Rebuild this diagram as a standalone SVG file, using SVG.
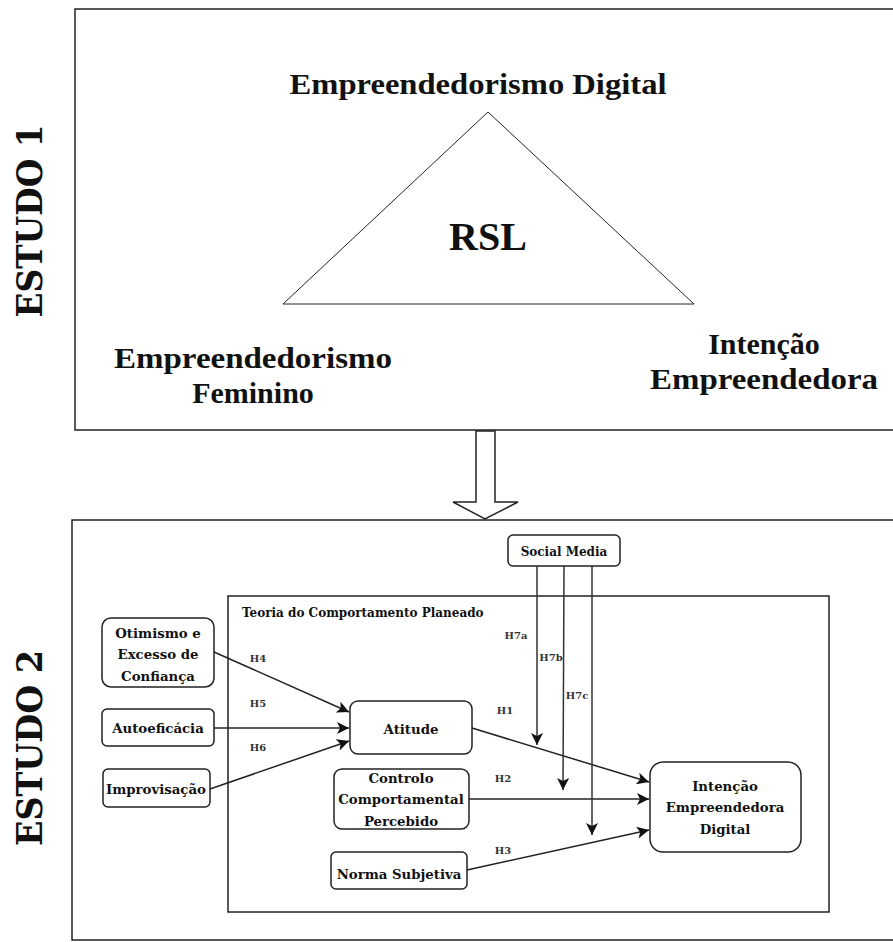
<svg xmlns="http://www.w3.org/2000/svg" width="893" height="942" viewBox="0 0 893 942">
<style>
.frame{fill:#fff;stroke:#222;stroke-width:1.5}
.node{fill:#fff;stroke:#222;stroke-width:1.5}
.t1{font-family:"Liberation Serif",serif;font-weight:bold;font-size:30px;fill:#111;text-anchor:middle}
.t2{font-family:"DejaVu Serif",serif;font-weight:bold;font-size:13.3px;fill:#111;text-anchor:middle}
.tt{font-family:"DejaVu Serif",serif;font-weight:bold;font-size:12px;fill:#111}
.h{font-family:"DejaVu Serif",serif;font-weight:bold;font-size:10px;fill:#333;text-anchor:middle}
.est{font-family:"DejaVu Serif",serif;font-weight:bold;font-size:35px;fill:#111;text-anchor:middle}
.edge{stroke:#222;stroke-width:1.5;fill:none;marker-end:url(#ah)}
.sm{stroke:#333;stroke-width:1.5;fill:none;marker-end:url(#ah)}
</style>
<defs>
<marker id="ah" markerUnits="userSpaceOnUse" markerWidth="12" markerHeight="12" refX="12" refY="6" orient="auto">
<path d="M0,0 L12,6 L0,12 L3,6 z" fill="#111"/>
</marker>
</defs>

<g id="estudo1">
<rect class="frame" x="75" y="9" width="840" height="421"/>
<text class="est" transform="translate(42,221) rotate(-90)" textLength="193" lengthAdjust="spacingAndGlyphs">ESTUDO 1</text>
<polygon points="488,112 283,304 694,304" fill="#fff" stroke="#222" stroke-width="1"/>
<text class="t1" x="478" y="94" textLength="377" lengthAdjust="spacingAndGlyphs">Empreendedorismo Digital</text>
<text class="t1" x="488" y="250" style="font-size:40px">RSL</text>
<text class="t1" x="253" y="368" textLength="278" lengthAdjust="spacingAndGlyphs">Empreendedorismo</text>
<text class="t1" x="253" y="403">Feminino</text>
<text class="t1" x="764" y="354">Intenção</text>
<text class="t1" x="764" y="389" textLength="228" lengthAdjust="spacingAndGlyphs">Empreendedora</text>
</g>

<g id="estudo2">
<rect class="frame" x="72" y="520" width="840" height="420"/>
<text class="est" transform="translate(42,748) rotate(-90)" textLength="196" lengthAdjust="spacingAndGlyphs">ESTUDO 2</text>
</g>

<g id="transition-arrow">
<polygon points="476,431 495,431 495,502 518,502 485,519 453,502 476,502" fill="#fff" stroke="#222" stroke-width="1.5"/>
</g>

<g id="tpb">
<rect x="228" y="596" width="601" height="316" fill="none" stroke="#222" stroke-width="1.5"/>
<text class="tt" x="242" y="617">Teoria do Comportamento Planeado</text>
</g>

<g id="social-media">
<rect class="node" x="508" y="535" width="112" height="31" rx="5"/>
<text class="t2" x="564" y="556" style="font-size:12px">Social Media</text>
</g>

<g id="otimismo">
<rect class="node" x="102" y="618" width="112" height="69" rx="9"/>
<text class="t2" x="158" y="638">Otimismo e</text>
<text class="t2" x="158" y="659">Excesso de</text>
<text class="t2" x="158" y="681">Confiança</text>
</g>

<g id="autoeficacia">
<rect class="node" x="102" y="709" width="112" height="37" rx="5"/>
<text class="t2" x="158" y="733">Autoeficácia</text>
</g>

<g id="improvisacao">
<rect class="node" x="103" y="769" width="107" height="38" rx="5"/>
<text class="t2" x="156" y="794">Improvisação</text>
</g>

<g id="atitude">
<rect class="node" x="350" y="701" width="122" height="53" rx="8"/>
<text class="t2" x="411" y="734">Atitude</text>
</g>

<g id="controlo">
<rect class="node" x="334" y="769" width="135" height="60" rx="8"/>
<text class="t2" x="401" y="783">Controlo</text>
<text class="t2" x="401" y="804">Comportamental</text>
<text class="t2" x="401" y="826">Percebido</text>
</g>

<g id="norma">
<rect class="node" x="331" y="852" width="136" height="37" rx="5"/>
<text class="t2" x="399" y="879">Norma Subjetiva</text>
</g>

<g id="intencao-digital">
<rect class="node" x="650" y="762" width="151" height="90" rx="13"/>
<text class="t2" x="725" y="791">Intenção</text>
<text class="t2" x="725" y="812">Empreendedora</text>
<text class="t2" x="725" y="834">Digital</text>
</g>

<g id="connectors">
<path class="edge" d="M214,652 L349,712"/>
<path class="edge" d="M214,728 L349,728"/>
<path class="edge" d="M210,789 L349,741"/>
<path class="edge" d="M472,728 L649,782"/>
<path class="edge" d="M469,799 L649,799"/>
<path class="edge" d="M467,870 L649,830"/>
<path class="sm" d="M537,566 L537,745"/>
<path class="sm" d="M564,566 L563,790"/>
<path class="sm" d="M592,566 L592,835"/>
<text class="h" x="258" y="662">H4</text>
<text class="h" x="258" y="707">H5</text>
<text class="h" x="258" y="751">H6</text>
<text class="h" x="516" y="639">H7a</text>
<text class="h" x="551" y="661">H7b</text>
<text class="h" x="577" y="699">H7c</text>
<text class="h" x="505" y="714">H1</text>
<text class="h" x="503" y="782">H2</text>
<text class="h" x="503" y="854">H3</text>
</g>
</svg>
